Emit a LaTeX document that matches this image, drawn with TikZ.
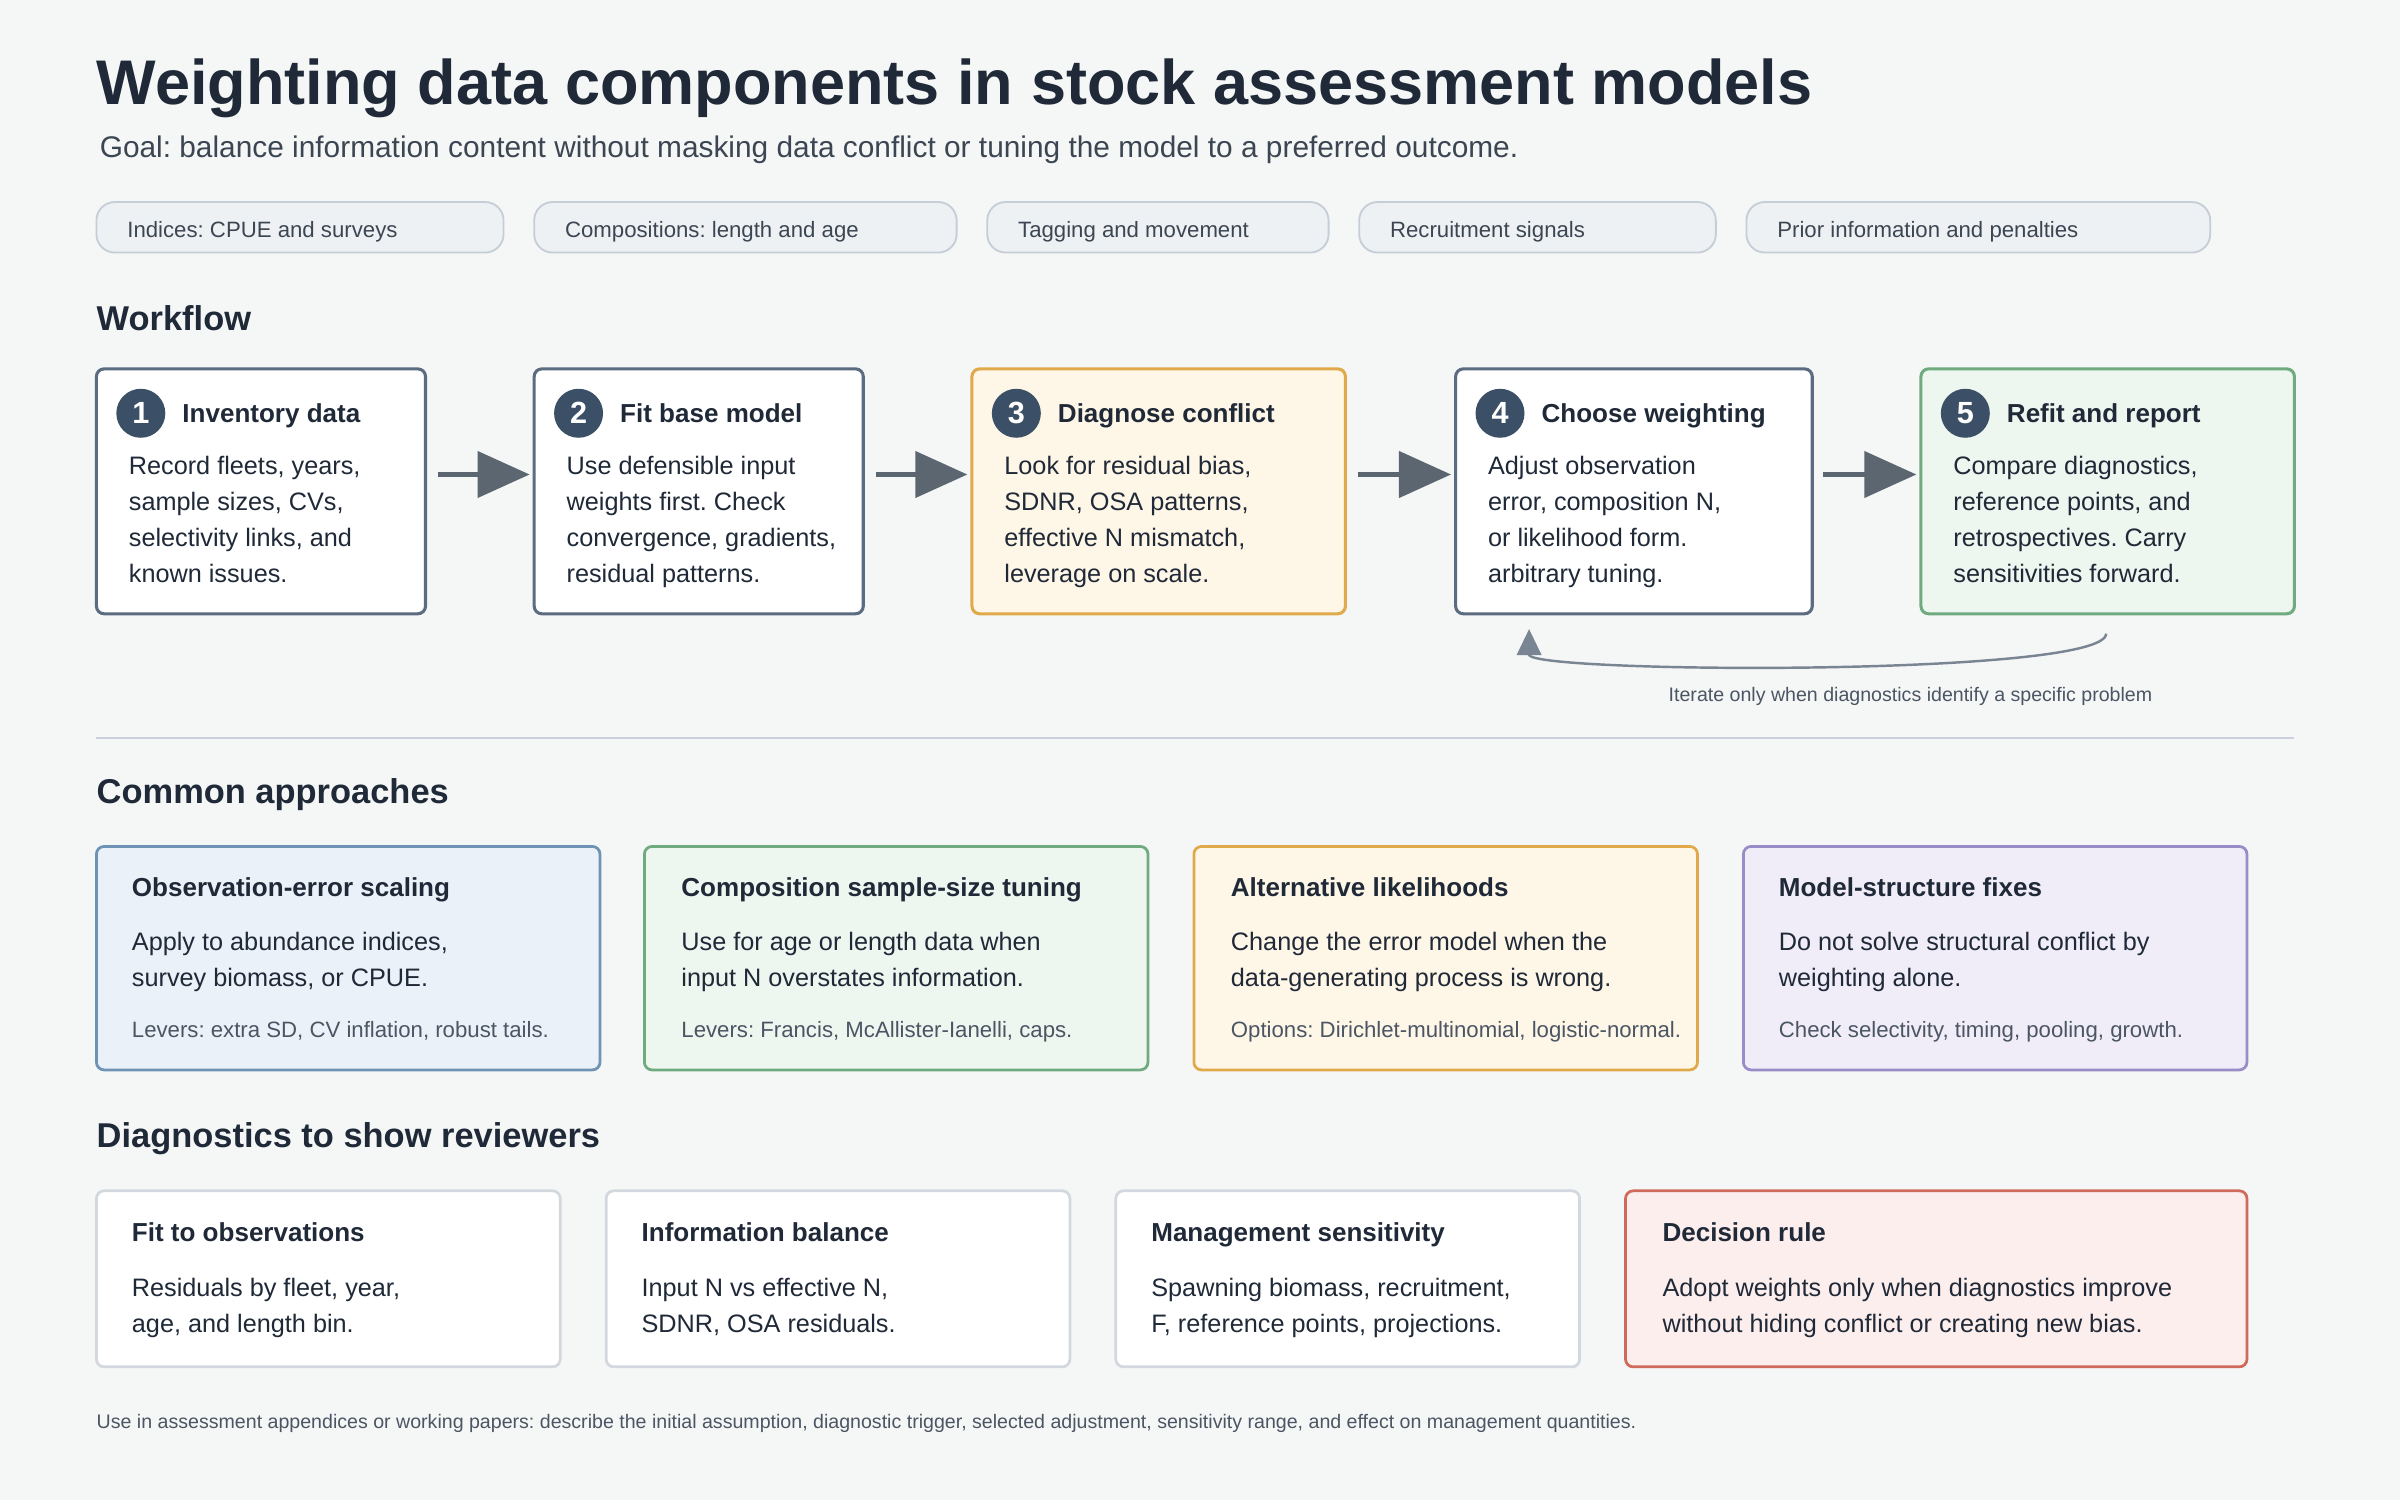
\documentclass[tikz,border=0pt]{standalone}
\usepackage{fontspec}
\setmainfont{Liberation Sans}
\usetikzlibrary{arrows.meta}
\frenchspacing
\definecolor{bg}{HTML}{F5F7F7}
\definecolor{ink}{HTML}{1F2937}
\definecolor{sub}{HTML}{3C4652}
\definecolor{mut}{HTML}{4B5563}
\definecolor{pillf}{HTML}{EEF1F4}
\definecolor{pilld}{HTML}{C5CDD6}
\definecolor{navy}{HTML}{3B4F66}
\definecolor{wbd}{HTML}{5B6B80}
\definecolor{arr}{HTML}{5B6670}
\definecolor{orf}{HTML}{FEF6E7}\definecolor{ord}{HTML}{E0AA4A}
\definecolor{grf}{HTML}{EDF6EF}\definecolor{grd}{HTML}{6FAB7F}
\definecolor{blf}{HTML}{EAF1F8}\definecolor{bld}{HTML}{6E93B5}
\definecolor{puf}{HTML}{F0EDF8}\definecolor{pud}{HTML}{9A8CC6}
\definecolor{ref}{HTML}{FDEEEE}\definecolor{red}{HTML}{D06A5A}
\definecolor{gbd}{HTML}{D3D8DF}
\definecolor{divc}{HTML}{CBD0DC}
\definecolor{fbc}{HTML}{7A8594}
\tikzset{
 x=1pt,y=-1pt,
 t/.style={anchor=base west,inner sep=0pt,text=ink},
 h1/.style={t,font=\fontsize{41.2}{41}\selectfont\bfseries},
 h2/.style={t,font=\fontsize{22.5}{22.5}\selectfont\bfseries},
 sb/.style={t,text=sub,font=\fontsize{19.5}{19.5}\selectfont},
 pt/.style={t,text=sub,font=\fontsize{14.5}{14.5}\selectfont},
 bt/.style={t,font=\fontsize{17}{17}\selectfont\bfseries},
 bd/.style={t,font=\fontsize{16.5}{16.5}\selectfont},
 sm/.style={t,text=mut,font=\fontsize{14.5}{14.5}\selectfont},
 tn/.style={t,text=mut,font=\fontsize{12.8}{12.8}\selectfont},
 pill/.style={draw=pilld,fill=pillf,line width=1.2pt,rounded corners=12pt},
 box/.style={line width=2pt,rounded corners=5pt},
 cbox/.style={line width=1.8pt,rounded corners=5pt},
 num/.style={circle,fill=navy,text=white,minimum size=32pt,inner sep=0pt,font=\fontsize{20}{20}\selectfont\bfseries},
 flow/.style={draw=arr,line width=3pt,-{Triangle[length=34pt,width=30pt]}},
}
\begin{document}
\begin{tikzpicture}
\fill[bg] (0,0) rectangle (1568,980);
\useasboundingbox (0,0) rectangle (1568,980);
\node[h1] (title) at (63,68) {Weighting data components in stock assessment models};
\node[sb] (subt) at (65,103) {Goal: balance information content without masking data conflict or tuning the model to a preferred outcome.};
% pills
\draw[pill] (63,132) rectangle (329,165); \node[pt] (p1) at (83,155) {Indices: CPUE and surveys};
\draw[pill] (349,132) rectangle (625,165); \node[pt] (p2) at (369,155) {Compositions: length and age};
\draw[pill] (645,132) rectangle (868,165); \node[pt] (p3) at (665,155) {Tagging and movement};
\draw[pill] (888,132) rectangle (1121,165); \node[pt] (p4) at (908,155) {Recruitment signals};
\draw[pill] (1141,132) rectangle (1444,165); \node[pt] (p5) at (1161,155) {Prior information and penalties};
\node[h2] (wf) at (63,216) {Workflow};
% workflow boxes
\draw[box,draw=wbd,fill=white] (63,241) rectangle (278,401);
\draw[box,draw=wbd,fill=white] (349,241) rectangle (564,401);
\draw[box,draw=ord,fill=orf] (635,241) rectangle (879,401);
\draw[box,draw=wbd,fill=white] (951,241) rectangle (1184,401);
\draw[box,draw=grd,fill=grf] (1255,241) rectangle (1499,401);
\node[num] (n1) at (92,270) {1}; \node[bt] (w1) at (119,276) {Inventory data};
\node[num] (n2) at (378,270) {2}; \node[bt] (w2) at (405,276) {Fit base model};
\node[num] (n3) at (664,270) {3}; \node[bt] (w3) at (691,276) {Diagnose conflict};
\node[num] (n4) at (980,270) {4}; \node[bt] (w4) at (1007,276) {Choose weighting};
\node[num] (n5) at (1284,270) {5}; \node[bt] (w5) at (1311,276) {Refit and report};
\node[bd] at (84,310) {Record fleets, years,};
\node[bd] at (84,333.5) {sample sizes, CVs,};
\node[bd] at (84,357) {selectivity links, and};
\node[bd] at (84,380.5) {known issues.};
\node[bd] at (370,310) {Use defensible input};
\node[bd] at (370,333.5) {weights first. Check};
\node[bd] at (370,357) {convergence, gradients,};
\node[bd] at (370,380.5) {residual patterns.};
\node[bd] at (656,310) {Look for residual bias,};
\node[bd] at (656,333.5) {SDNR, OSA patterns,};
\node[bd] at (656,357) {effective N mismatch,};
\node[bd] at (656,380.5) {leverage on scale.};
\node[bd] at (972,310) {Adjust observation};
\node[bd] at (972,333.5) {error, composition N,};
\node[bd] at (972,357) {or likelihood form.};
\node[bd] at (972,380.5) {arbitrary tuning.};
\node[bd] at (1276,310) {Compare diagnostics,};
\node[bd] at (1276,333.5) {reference points, and};
\node[bd] at (1276,357) {retrospectives. Carry};
\node[bd] at (1276,380.5) {sensitivities forward.};
\coordinate (a1s) at (286,310); \coordinate (a1e) at (346,310);
\coordinate (a2s) at (572,310); \coordinate (a2e) at (632,310);
\coordinate (a3s) at (887,310); \coordinate (a3e) at (948,310);
\coordinate (a4s) at (1191,310); \coordinate (a4e) at (1252,310);
\draw[flow] (a1s) -- (a1e); \draw[flow] (a2s) -- (a2e);
\draw[flow] (a3s) -- (a3e); \draw[flow] (a4s) -- (a4e);
\coordinate (fbs) at (1376,414); \coordinate (fbe) at (999,411);
\draw[fbc,line width=1.6pt,-{Triangle[length=17pt,width=16pt]}] (fbs) .. controls (1376,442) and (1005,440) .. (999,428) -- (fbe);
\node[tn] (fbl) at (1090,458) {Iterate only when diagnostics identify a specific problem};
\draw[divc,line width=1.5pt] (63,482) -- (1499,482);
\node[h2] (ca) at (63,525) {Common approaches};
\draw[cbox,draw=bld,fill=blf] (63,553) rectangle (392,699);
\draw[cbox,draw=grd,fill=grf] (421,553) rectangle (750,699);
\draw[cbox,draw=ord,fill=orf] (780,553) rectangle (1109,699);
\draw[cbox,draw=pud,fill=puf] (1139,553) rectangle (1468,699);
\node[bt] at (86,586) {Observation-error scaling};
\node[bd] at (86,621) {Apply to abundance indices,};
\node[bd] at (86,644.5) {survey biomass, or CPUE.};
\node[sm] at (86,678) {Levers: extra SD, CV inflation, robust tails.};
\node[bt] at (445,586) {Composition sample-size tuning};
\node[bd] at (445,621) {Use for age or length data when};
\node[bd] at (445,644.5) {input N overstates information.};
\node[sm] at (445,678) {Levers: Francis, McAllister-Ianelli, caps.};
\node[bt] at (804,586) {Alternative likelihoods};
\node[bd] at (804,621) {Change the error model when the};
\node[bd] at (804,644.5) {data-generating process is wrong.};
\node[sm] at (804,678) {Options: Dirichlet-multinomial, logistic-normal.};
\node[bt] at (1162,586) {Model-structure fixes};
\node[bd] at (1162,621) {Do not solve structural conflict by};
\node[bd] at (1162,644.5) {weighting alone.};
\node[sm] at (1162,678) {Check selectivity, timing, pooling, growth.};
\node[h2] (dg) at (63,750) {Diagnostics to show reviewers};
\draw[cbox,draw=gbd,fill=white] (63,778) rectangle (366,893);
\draw[cbox,draw=gbd,fill=white] (396,778) rectangle (699,893);
\draw[cbox,draw=gbd,fill=white] (729,778) rectangle (1032,893);
\draw[cbox,draw=red,fill=ref] (1062,778) rectangle (1468,893);
\node[bt] at (86,811) {Fit to observations};
\node[bd] at (86,847) {Residuals by fleet, year,};
\node[bd] at (86,870.5) {age, and length bin.};
\node[bt] at (419,811) {Information balance};
\node[bd] at (419,847) {Input N vs effective N,};
\node[bd] at (419,870.5) {SDNR, OSA residuals.};
\node[bt] at (752,811) {Management sensitivity};
\node[bd] at (752,847) {Spawning biomass, recruitment,};
\node[bd] at (752,870.5) {F, reference points, projections.};
\node[bt] at (1086,811) {Decision rule};
\node[bd] at (1086,847) {Adopt weights only when diagnostics improve};
\node[bd] at (1086,870.5) {without hiding conflict or creating new bias.};
\node[tn] (foot) at (63,933) {Use in assessment appendices or working papers: describe the initial assumption, diagnostic trigger, selected adjustment, sensitivity range, and effect on management quantities.};
\end{tikzpicture}
\end{document}
